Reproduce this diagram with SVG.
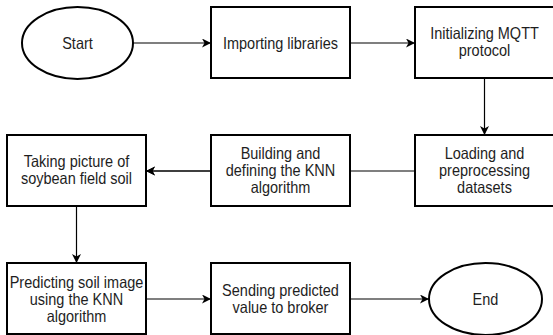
<svg xmlns="http://www.w3.org/2000/svg" width="553" height="335" viewBox="0 0 553 335">
<defs>
<marker id="arr" markerWidth="10" markerHeight="10" refX="9" refY="4.5" orient="auto" markerUnits="userSpaceOnUse">
<path d="M0,0 L9,4.5 L0,9 L2.5,4.5 Z" fill="#000"/>
</marker>
<style>
.box{fill:#fff;stroke:#000;stroke-width:2}
.t{font-family:"Liberation Sans",Arial,sans-serif;font-size:14.5px;fill:#1e1e1e;text-anchor:middle}
.c{fill:none;stroke:#000;stroke-width:1.2;marker-end:url(#arr)}
</style>
</defs>
<rect width="553" height="335" fill="#fff"/>
<g id="connectors">
<path class="c" d="M133,43 H211"/>
<path class="c" d="M350,43 H415"/>
<path class="c" d="M484.5,78 V135"/>
<path class="c" d="M415,171 H146"/>
<path class="c" d="M211,171 H146"/>
<path class="c" d="M76.5,206 V263"/>
<path class="c" d="M146,299 H211"/>
<path class="c" d="M350,299 H429"/>
</g>
<g id="start">
<ellipse class="box" cx="77.5" cy="43" rx="55.5" ry="36"/>
<text class="t" transform="translate(77.5,48.5) scale(1,1.15)">Start</text>
</g>
<g id="import">
<rect class="box" x="211" y="7" width="139" height="71"/>
<text class="t" transform="translate(280.5,48.5) scale(1,1.15)">Importing libraries</text>
</g>
<g id="mqtt">
<rect class="box" x="415" y="7" width="139" height="71"/>
<text class="t" transform="translate(484.5,39) scale(1,1.15)">Initializing MQTT</text>
<text class="t" transform="translate(484.5,56) scale(1,1.15)">protocol</text>
</g>
<g id="loading">
<rect class="box" x="415" y="135" width="139" height="71"/>
<text class="t" transform="translate(484.5,158.5) scale(1,1.15)">Loading and</text>
<text class="t" transform="translate(484.5,175.5) scale(1,1.15)">preprocessing</text>
<text class="t" transform="translate(484.5,192.5) scale(1,1.15)">datasets</text>
</g>
<g id="building">
<rect class="box" x="211" y="135" width="139" height="71"/>
<text class="t" transform="translate(280.5,158.5) scale(1,1.15)">Building and</text>
<text class="t" transform="translate(280.5,175.5) scale(1,1.15)">defining the KNN</text>
<text class="t" transform="translate(280.5,192.5) scale(1,1.15)">algorithm</text>
</g>
<g id="taking">
<rect class="box" x="7" y="135" width="139" height="71"/>
<text class="t" transform="translate(76.5,167) scale(1,1.15)">Taking picture of</text>
<text class="t" transform="translate(76.5,184) scale(1,1.15)">soybean field soil</text>
</g>
<g id="predicting">
<rect class="box" x="7" y="263" width="139" height="71"/>
<text class="t" transform="translate(76.5,288) scale(1,1.15)">Predicting soil image</text>
<text class="t" transform="translate(76.5,305) scale(1,1.15)">using the KNN</text>
<text class="t" transform="translate(76.5,322) scale(1,1.15)">algorithm</text>
</g>
<g id="sending">
<rect class="box" x="211" y="263" width="139" height="71"/>
<text class="t" transform="translate(280.5,295.5) scale(1,1.15)">Sending predicted</text>
<text class="t" transform="translate(280.5,312.5) scale(1,1.15)">value to broker</text>
</g>
<g id="end">
<ellipse class="box" cx="485.5" cy="299" rx="56.5" ry="36"/>
<text class="t" transform="translate(485.5,304.5) scale(1,1.15)">End</text>
</g>
</svg>
